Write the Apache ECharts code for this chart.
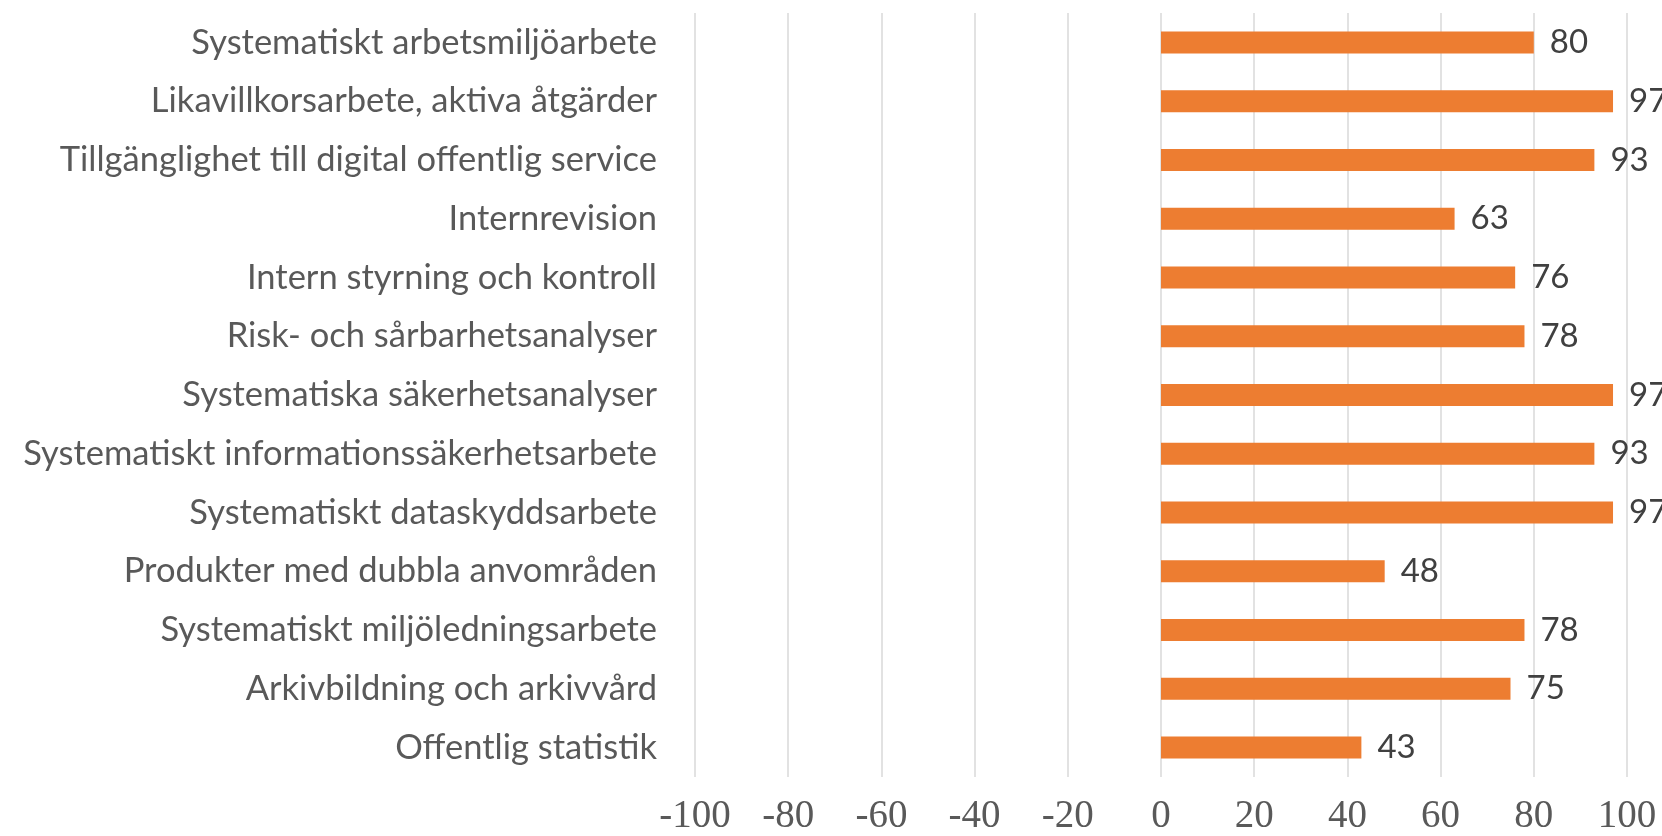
<!DOCTYPE html>
<html>
<head>
<meta charset="utf-8">
<script src="https://cdn.jsdelivr.net/npm/echarts@6/dist/echarts.min.js"></script>
<style>
  html, body { margin: 0; padding: 0; background: #fff; }
  #chart { width: 1662px; height: 836px; }
</style>
</head>
<body>
<div id="chart"></div>
<script>
// categories, top to bottom
var categories = [
  'Systematiskt arbetsmiljöarbete',
  'Likavillkorsarbete, aktiva åtgärder',
  'Tillgänglighet till digital offentlig service',
  'Internrevision',
  'Intern styrning och kontroll',
  'Risk- och sårbarhetsanalyser',
  'Systematiska säkerhetsanalyser',
  'Systematiskt informationssäkerhetsarbete',
  'Systematiskt dataskyddsarbete',
  'Produkter med dubbla anvområden',
  'Systematiskt miljöledningsarbete',
  'Arkivbildning och arkivvård',
  'Offentlig statistik'
]
var values = [80, 97, 93, 63, 76, 78, 97, 93, 97, 48, 78, 75, 43]
var axisMin = -100
var axisMax = 100
var axisStep = 20

var chart = echarts.init(document.getElementById('chart'))
var option = {
  backgroundColor: '#fff',
  animation: false,
  grid: {
    left: 695,
    right: 35,
    top: 13,
    bottom: 53
  },
  xAxis: {
    type: 'value',
    min: axisMin,
    max: axisMax,
    interval: axisStep,
    axisLine: { show: false },
    axisTick: { show: false },
    axisLabel: {
      color: '#595959',
      fontFamily: 'Liberation Serif',
      fontSize: 39,
      margin: 20
    },
    splitLine: {
      lineStyle: { color: '#d9d9d9', width: 1.5 }
    }
  },
  yAxis: {
    type: 'category',
    data: categories,
    inverse: true,
    axisLine: { show: false },
    axisTick: { show: false },
    axisLabel: {
      color: '#595959',
      fontFamily: 'Lato',
      fontSize: 34.5,
      margin: 38
    }
  },
  series: [
    {
      type: 'bar',
      data: values,
      barWidth: 22,
      itemStyle: { color: '#ED7D31' },
      label: {
        show: true,
        position: 'right',
        distance: 16,
        color: '#404040',
        fontFamily: 'Lato',
        fontSize: 33
      }
    }
  ]
}
chart.setOption(option)
</script>
</body>
</html>
